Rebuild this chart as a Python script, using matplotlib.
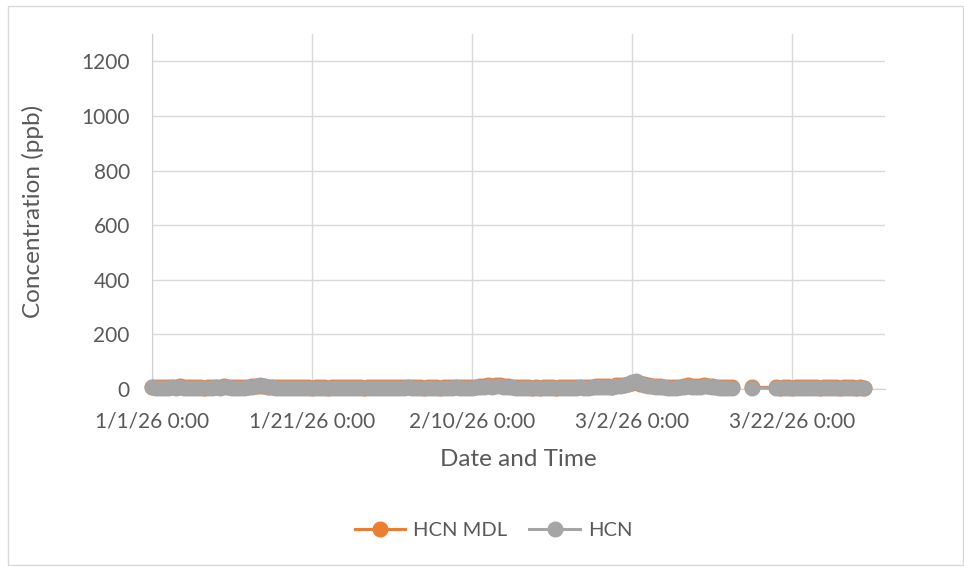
import numpy as np
import pandas as pd
import matplotlib.pyplot as plt
import matplotlib.dates as mdates
from matplotlib.patches import Rectangle

plt.rcParams['font.family'] = ['Lato', 'DejaVu Sans']

nan = np.nan
# 12-hourly readings, 1/1/26 0:00 .. 3/31/26 0:00 (nan = no data)
dates = pd.date_range('2026-01-01', '2026-03-31', freq='12h')
hcn_mdl = [9, 7, 8, 6, 7, 9, 8, 10, 7, 6,
           8, 7, 6, 5, 7, 6, 9, 8, 10, 9,
           7, 8, 6, 7, 9, 10, 11, 12, 11, 9,
           9, 8, 7, 6, 8, 7, 6, 8, 7, 6,
           5, 6, 7, 6, 5, 7, 6, 8, 7, 6,
           8, 7, 6, 5, 6, 7, 8, 6, 7, 8,
           6, 7, 8, 7, 9, 8, 7, 6, 5, 6,
           7, 6, 5, 6, 7, 8, 9, 7, 8, 7,
           8, 9, 10, 11, 13, 12, 15, 14, 11, 10,
           9, 8, 7, 6, 7, 5, 6, 5, 6, 7,
           6, 5, 6, 7, 6, 8, 7, 9, 8, 7,
           9, 11, 10, 12, 11, 9, 13, 14, 16, 18,
           21, 24, 20, 17, 14, 12, 11, 10, 9, 8,
           7, 8, 9, 11, 13, 12, 10, 11, 14, 12,
           11, 9, 8, 7, 6, 8, nan, nan, nan, nan,
           6, nan, nan, nan, nan, nan, 6, 5, 7, 6,
           5, 6, 7, 6, 8, 7, 6, 5, 7, 6,
           6, 7, 5, 6, 7, 6, 5, 6, 5]
hcn = [6, 4, 5, 3, 4, 6, 5, 7, 4, 3,
       5, 4, 3, 2, 4, 3, 6, 5, 7, 6,
       4, 5, 3, 4, 6, 8, 12, 14, 10, 8,
       6, 5, 4, 3, 5, 4, 3, 5, 4, 3,
       2, 3, 4, 3, 2, 4, 3, 5, 4, 3,
       5, 4, 3, 2, 3, 4, 5, 3, 4, 5,
       3, 4, 5, 4, 6, 5, 4, 3, 2, 3,
       4, 3, 2, 3, 4, 5, 6, 4, 5, 4,
       5, 6, 7, 8, 10, 9, 12, 11, 8, 7,
       6, 5, 4, 3, 4, 2, 3, 2, 3, 4,
       3, 2, 3, 4, 3, 5, 4, 6, 5, 4,
       6, 8, 7, 9, 8, 6, 10, 12, 15, 18,
       24, 28, 22, 16, 12, 10, 8, 7, 6, 5,
       4, 5, 6, 8, 10, 9, 7, 8, 12, 10,
       8, 6, 5, 4, 3, 5, nan, nan, nan, nan,
       4, nan, nan, nan, nan, nan, 3, 2, 4, 3,
       2, 3, 4, 3, 5, 4, 3, 2, 4, 3,
       3, 4, 2, 3, 4, 3, 2, 3, 2]
# rows absent from the sheet (line joins across them)
skipped = pd.date_range('2026-03-17 12:00', '2026-03-19 12:00', freq='12h')

mdl_s = pd.Series(hcn_mdl, index=dates).drop(skipped)
hcn_s = pd.Series(hcn, index=dates).drop(skipped)

fig = plt.figure(figsize=(9.64, 5.67), dpi=100)
fig.patches.append(Rectangle((8 / 964, 2 / 567), 955 / 964, 559 / 567, transform=fig.transFigure,
                             fill=False, edgecolor='#d9d9d9', linewidth=1))
ax = fig.add_axes([152 / 964, 1 - 389 / 567, 733 / 964, 355 / 567])

ax.plot(mdl_s.index, mdl_s.values, color='#ED7D31', lw=2.2, marker='o', ms=10.5,
        label='HCN MDL', zorder=3, clip_on=False)
ax.plot(hcn_s.index, hcn_s.values, color='#A5A5A5', lw=2.2, marker='o', ms=10.5,
        label='HCN', zorder=4, clip_on=False)

ax.set_ylim(0, 1300)
ax.set_yticks(range(0, 1201, 200))
ax.set_xlim(dates[0], dates[0] + pd.Timedelta(days=91.6))
ax.set_xticks([dates[0] + pd.Timedelta(days=d) for d in range(0, 81, 20)])
ax.xaxis.set_major_formatter(plt.FuncFormatter(
    lambda v, p: (lambda d: f'{d.month}/{d.day}/{d.year % 100} 0:00')(mdates.num2date(v))))

ax.grid(True, color='#d9d9d9', lw=1)
ax.set_axisbelow(True)
for s in ['top', 'right']:
    ax.spines[s].set_visible(False)
for s in ['left', 'bottom']:
    ax.spines[s].set_color('#d0d0d0')
ax.tick_params(length=0, labelsize=15, colors='#595959')
ax.tick_params(axis='x', pad=16)
ax.tick_params(axis='y', pad=16)
ax.set_xlabel('Date and Time', fontsize=17.5, color='#595959', labelpad=13)
ax.set_ylabel('Concentration (ppb)', fontsize=17.5, color='#595959', labelpad=27)

fig.legend(loc='center', bbox_to_anchor=(0.512, 0.065), ncol=2, frameon=False,
           fontsize=14.5, labelcolor='#595959', handlelength=2.5, handletextpad=0.4,
           columnspacing=1.1)

fig.savefig('out.png', dpi=100)
